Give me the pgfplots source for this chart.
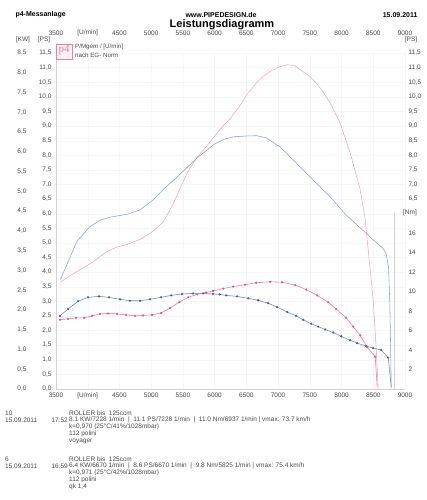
\documentclass[border=0pt]{standalone}
\usepackage{fontspec}
\setmainfont{Liberation Sans}
\newfontfamily\serifp{Liberation Serif}
\usepackage{pgfplots}
\usepackage{pgfplotstable}
\pgfplotsset{compat=1.18}
\definecolor{bluepow}{RGB}{135,160,198}
\definecolor{bluetq}{RGB}{110,140,185}
\definecolor{bluemk}{RGB}{70,95,150}
\definecolor{pinkpow}{RGB}{238,165,190}
\definecolor{pinktq}{RGB}{235,125,165}
\definecolor{pinkmk}{RGB}{225,85,140}
\definecolor{txt}{RGB}{70,70,70}

\pgfplotstableread{
rpm ps
3570 3.66
3700 3.85
3880 4.08
4080 4.35
4300 4.70
4460 4.86
4620 4.95
4825 5.12
5030 5.40
5190 5.72
5340 6.30
5450 6.85
5580 7.45
5720 7.92
5870 8.30
5980 8.60
6130 9.00
6244 9.25
6400 9.70
6500 10.05
6650 10.45
6764 10.70
6900 10.90
7032 11.03
7150 11.10
7250 11.08
7395 10.86
7500 10.70
7600 10.48
7700 10.20
7821 9.79
7979 9.10
8136 8.08
8294 6.82
8373 5.79
8420 4.76
8499 3.05
8547 1.34
8578 0.00
}\pinkpow

\pgfplotstableread{
rpm ps
3570 3.75
3700 4.40
3830 5.05
4030 5.55
4200 5.78
4350 5.88
4620 5.98
4825 6.13
5030 6.47
5200 6.85
5410 7.26
5720 7.90
5880 8.18
5980 8.36
6150 8.55
6290 8.63
6500 8.66
6660 8.67
6810 8.60
7030 8.29
7285 7.74
7550 7.16
7820 6.58
8070 5.96
8300 5.50
8390 5.34
8500 5.10
8650 4.82
8700 4.65
8740 4.18
8760 3.00
8770 1.90
8783 0.05
}\bluepow

\pgfplotstableread{
rpm nm
3563 7.5
3690 8.2
3847 9.0
4005 9.4
4178 9.5
4336 9.4
4509 9.2
4667 9.05
4825 9.05
4982 9.2
5156 9.4
5314 9.6
5487 9.75
5660 9.8
5818 9.8
5976 9.75
6080 9.7
6181 9.6
6354 9.5
6528 9.3
6685 9.1
6843 8.8
6985 8.4
7143 7.9
7285 7.5
7395 7.1
7521 6.7
7632 6.4
7742 6.1
7868 5.8
7995 5.4
8136 5.0
8247 4.7
8389 4.4
8499 4.2
8625 4.0
8736 3.2
8783 0.2
}\bluetq

\pgfplotstableread{
rpm nm
3563 7.1
3690 7.2
3815 7.3
3942 7.3
4068 7.5
4194 7.7
4320 7.75
4462 7.7
4604 7.6
4746 7.5
4872 7.55
5014 7.6
5156 7.8
5298 8.3
5440 8.9
5582 9.4
5724 9.7
5866 9.9
5976 10.05
6134 10.3
6291 10.5
6480 10.7
6654 10.9
6875 11.0
7064 10.95
7269 10.65
7443 10.2
7616 9.6
7790 8.9
7916 8.2
8073 7.3
8183 6.4
8294 5.5
8405 4.3
8531 3.3
8562 0.2
}\pinktq

\pgfplotsset{
 base/.style={scale only axis, width=349pt, height=336pt, at={(56pt,-389pt)}, anchor=south west,
   xmin=3500, xmax=9000, major tick length=0pt,
   tick label style={font=\fontsize{6.5}{7}\selectfont, text=txt},
   /pgf/number format/assume math mode=true},
 xlab/.style={xtick={3500,4000,...,9000},
   xticklabels={3500,{[U/min]},4500,5000,5500,6000,6500,7000,7500,8000,8500,9000}},
 comma1/.style={yticklabel style={/pgf/number format/use comma, /pgf/number format/fixed,
   /pgf/number format/fixed zerofill, /pgf/number format/precision=1}},
}

\begin{document}
\begin{tikzpicture}[x=1pt,y=1pt]
\path[use as bounding box] (0,0) rectangle (426,-500);

% main axis: PS, grid, power curves
\begin{axis}[base, xlab, comma1, ymin=0, ymax=11.5, ytick={0,0.5,...,11.5},
  axis x line*=bottom, axis y line*=left, axis line style={-, gray!35, line width=0.4pt},
  grid=major, grid style={gray!7, line width=0.3pt}, yticklabel style={xshift=-1pt}]
\addplot[pinkpow, line width=0.55pt] table[x=rpm, y=ps] {\pinkpow};
\addplot[bluepow, line width=0.55pt] table[x=rpm, y=ps] {\bluepow};
\end{axis}

% kW labels
\begin{axis}[base, at={(30pt,-389pt)}, width=1pt, comma1, ymin=0, ymax=8.5, ytick={0,0.5,...,8.5},
  hide x axis, axis y line*=left, y axis line style={draw=none}]
\end{axis}

% right PS labels
\begin{axis}[base, comma1, ymin=0, ymax=11.5, ytick={6.5,7,...,11.5},
  hide x axis, axis y line*=right, y axis line style={draw=none}]
\end{axis}

% top x labels
\begin{axis}[base, xlab, height=350pt, ymin=0, ymax=1, hide y axis,
  axis x line*=top, x axis line style={draw=none}]
\end{axis}

% torque axis
\begin{axis}[base, ymin=0, ymax=34.46, ytick={2,4,...,16},
  hide x axis, axis y line*=right, y axis line style={draw=none}]
\draw[gray!35, line width=0.4pt] (axis cs:8827,0) -- (axis cs:8827,18);
\addplot[bluetq, line width=0.6pt] table[x=rpm, y=nm] {\bluetq};
\addplot[only marks, mark=*, mark size=0.9pt, bluemk, skip coords between index={37}{38}] table[x=rpm, y=nm] {\bluetq};
\addplot[pinktq, line width=0.6pt] table[x=rpm, y=nm] {\pinktq};
\addplot[only marks, mark=*, mark size=0.9pt, pinkmk, skip coords between index={35}{36}] table[x=rpm, y=nm] {\pinktq};
\end{axis}

% axis unit labels
\begin{scope}[font=\fontsize{6.5}{7}\selectfont, text=txt]
\node at (23,-40) {[KW]};
\node at (44,-40) {[PS]};
\node at (411,-40) {[PS]};
\node at (410,-213) {[Nm]};
\end{scope}

% header
\node[anchor=west, font=\bfseries\fontsize{7}{8}\selectfont] at (12,-15) {p4-Messanlage};
\node[font=\bfseries\fontsize{7}{8}\selectfont] at (221,-15) {www.PIPEDESIGN.de};
\node[anchor=east, font=\bfseries\fontsize{7}{8}\selectfont] at (421,-15) {15.09.2011};
\node[font=\bfseries\fontsize{11}{12}\selectfont] at (222,-25) {Leistungsdiagramm};

% legend logo
\draw[pinktq, line width=0.5pt, fill=pinkpow!15] (56,-44) rectangle (72,-59);
\node[text=pinktq, font=\serifp\fontsize{11}{11}\selectfont, inner sep=0] at (64,-50.5) {p4};
\node[anchor=west, text=txt, font=\fontsize{6.2}{6.5}\selectfont, inner sep=0] at (75,-46.5) {P/Mgem / [U/min]};
\node[anchor=west, text=txt, font=\fontsize{6.2}{6.5}\selectfont, inner sep=0] at (75,-55.5) {nach EG- Norm};

% footer
\begin{scope}[every node/.style={anchor=west, inner sep=0, text=txt, font=\fontsize{6.5}{7}\selectfont}]
\node at (5,-413) {10};
\node at (69,-413) {ROLLER bis\ \ 125ccm};
\node at (5,-420) {15.09.2011};
\node[anchor=east] at (68,-420) {17:52};
\node at (69,-420) {8.1 KW/7228 1/min\ \ |\ \ 11.1 PS/7228 1/min\ \ |\ \ 11.0 Nm/6937 1/min | vmax: 73.7 km/h};
\node at (69,-427) {k=0,970 (25°C/41\%/1028mbar)};
\node at (69,-434) {112 polini};
\node at (69,-441) {voyager};
\node at (5,-459) {6};
\node at (69,-459) {ROLLER bis\ \ 125ccm};
\node at (5,-466) {15.09.2011};
\node[anchor=east] at (68,-466) {16:59};
\node at (69,-466) {6.4 KW/6670 1/min\ \ |\ \ 8.6 PS/6670 1/min\ \ |\ \ 9.8 Nm/5825 1/min | vmax: 75.4 km/h};
\node at (69,-473) {k=0,971 (25°C/42\%/1028mbar)};
\node at (69,-480) {112 polini};
\node at (69,-487) {qk 1,4};
\end{scope}
\end{tikzpicture}
\end{document}
